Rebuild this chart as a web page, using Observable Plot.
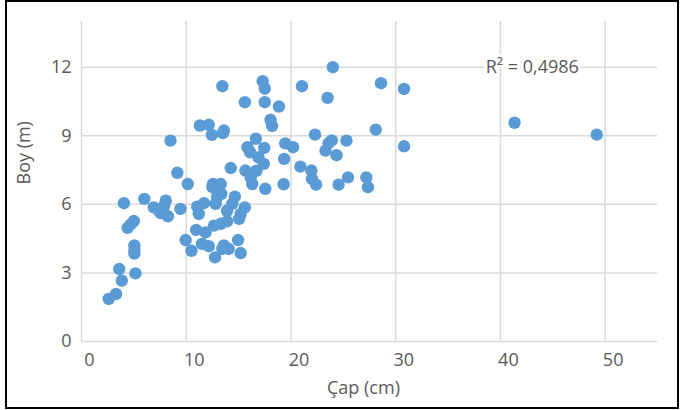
<!DOCTYPE html>
<html>
<head>
<meta charset="utf-8">
<script src="https://cdn.jsdelivr.net/npm/d3@7"></script>
<script src="https://cdn.jsdelivr.net/npm/@observablehq/plot@0.6"></script>
<style>
  html, body { margin: 0; padding: 0; background: #fff; }
  #wrap { position: relative; width: 681px; height: 410px; overflow: hidden; }
  #frame { position: absolute; left: 5px; top: 0px; width: 674px; height: 409px; box-sizing: border-box; border: 2px solid #000; pointer-events: none; }
</style>
</head>
<body>
<div id="wrap"><div id="frame"></div></div>
<script>
// Çap (cm) — diameter values
const cap = [
  2.6, 3.3, 3.6, 3.85, 5.15, 5.05, 5.05, 5.05, 4.05, 6.0, 4.4, 4.7, 5.0, 6.9, 7.4, 7.55, 8.05, 7.9, 8.25, 9.45, 8.5, 9.15, 10.15,
  9.95, 10.5, 11.05, 11.2, 11.7, 10.95, 11.85, 11.5, 12.15, 12.75, 12.65, 13.3, 13.9, 13.6, 13.45, 14.05, 14.95, 15.2, 15.05, 15.2, 15.6, 12.8, 12.95, 14.4, 13.9, 14.65, 12.55, 13.3, 13.35, 12.5, 13.0,
  13.45, 17.3, 17.5, 15.6, 17.5, 18.85, 18.05, 18.2, 11.3, 12.15, 12.45, 13.6, 13.5, 16.65, 15.85, 16.1, 17.45, 19.45, 19.35, 16.9, 17.4, 14.25, 15.65, 16.7, 16.15, 16.3, 17.55, 19.3, 20.2,
  24.0, 21.05, 28.6, 30.8, 23.5, 28.1, 22.3, 23.9, 23.6, 25.3, 23.3, 24.35, 30.8, 20.9, 21.95, 22.0, 22.4, 24.55, 25.45, 27.2, 27.35, 41.35, 49.2
];
// Boy (m) — height values
const boy = [
  1.86, 2.08, 3.17, 2.66, 2.98, 4.2, 4.0, 3.85, 6.05, 6.24, 4.97, 5.12, 5.27, 5.87, 5.72, 5.62, 6.16, 5.94, 5.48, 5.8, 8.79, 7.38, 6.89,
  4.44, 3.97, 5.9, 5.58, 6.05, 4.88, 4.77, 4.27, 4.17, 3.68, 5.07, 5.15, 5.26, 4.2, 4.05, 4.05, 4.44, 3.87, 5.36, 5.58, 5.87, 6.02, 6.31, 6.02, 5.72, 6.34, 6.89, 6.89, 6.46, 6.75, 6.4,
  11.17, 11.39, 11.06, 10.47, 10.47, 10.28, 9.7, 9.43, 9.45, 9.48, 9.04, 9.23, 9.12, 8.87, 8.5, 8.28, 8.47, 8.67, 7.99, 8.06, 7.77, 7.59, 7.48, 7.47, 7.18, 6.89, 6.68, 6.88, 8.5,
  12.0, 11.17, 11.3, 11.05, 10.66, 9.27, 9.05, 8.8, 8.68, 8.79, 8.35, 8.15, 8.54, 7.65, 7.48, 7.11, 6.86, 6.86, 7.18, 7.18, 6.75, 9.57, 9.05
];
const xTicks = [0, 10, 20, 30, 40, 50];
const yTicks = [0, 3, 6, 9, 12];
const xTitle = "Çap (cm)";
const yTitle = "Boy (m)";
const r2Label = "R² = 0,4986";
const r2Pos = {x: 38.6, y: 12};

const data = cap.map((c, i) => ({cap: c, boy: boy[i]}));

const textColor = "#595959";
const gridColor = "#d9d9d9";
const font = "'Open Sans', 'Liberation Sans', sans-serif";

const chart = Plot.plot({
  width: 681,
  height: 410,
  marginLeft: 81,
  marginRight: 24,
  marginTop: 21,
  marginBottom: 69,
  style: {fontFamily: font, fontSize: "18px", color: textColor, background: "transparent"},
  x: {domain: [0, 55], axis: null},
  y: {domain: [0, 14], axis: null},
  marks: [
    Plot.ruleX(xTicks, {x: d => d, stroke: gridColor, strokeWidth: 1.5}),
    Plot.ruleY(yTicks, {y: d => d, stroke: gridColor, strokeWidth: 1.5}),
    Plot.text(xTicks, {x: d => d, text: d => String(d), frameAnchor: "bottom", dy: 24, dx: 8, fill: textColor, fontSize: 18}),
    Plot.text(yTicks, {y: d => d, text: d => String(d), frameAnchor: "left", textAnchor: "end", dx: -10, fill: textColor, fontSize: 18}),
    Plot.text([xTitle], {text: d => d, frameAnchor: "bottom", dy: 52, dx: -6, fill: textColor, fontSize: 18}),
    Plot.text([yTitle], {text: d => d, frameAnchor: "left", rotate: -90, dx: -57, dy: 3, fill: textColor, fontSize: 18}),
    Plot.dot(data, {x: "cap", y: "boy", r: 6.2, fill: "#5b9bd5", stroke: "none"}),
    Plot.text([r2Label], {x: () => r2Pos.x, y: () => r2Pos.y, text: d => d, textAnchor: "start", fill: textColor, fontSize: 18, stroke: "white", strokeWidth: 6})
  ]
});
document.getElementById("wrap").insertBefore(chart, document.getElementById("frame"));
</script>
</body>
</html>
